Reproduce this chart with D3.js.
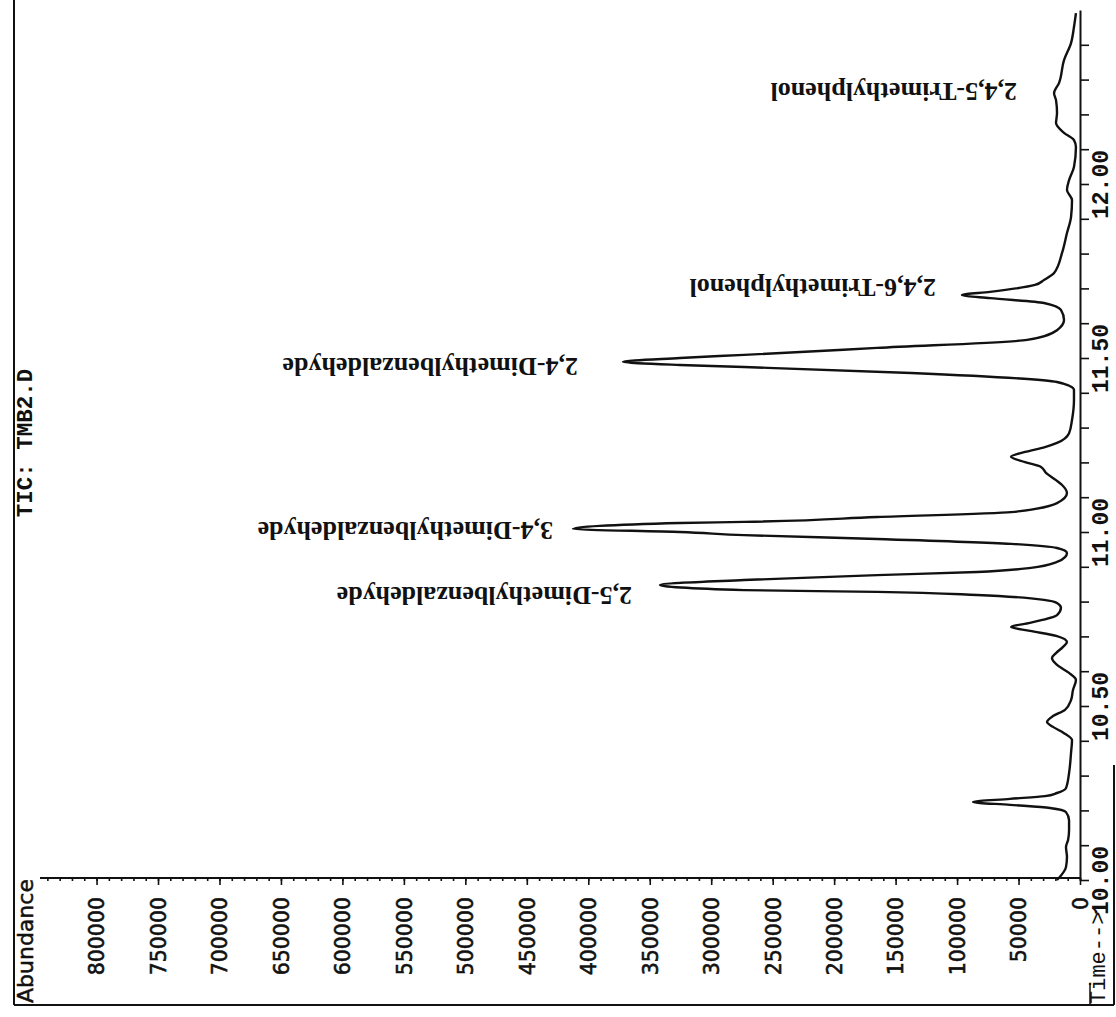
<!DOCTYPE html>
<html>
<head>
<meta charset="utf-8">
<script src="https://cdn.jsdelivr.net/npm/d3@7"></script>
<style>
  html, body { margin: 0; padding: 0; background: #fff; }
  svg { display: block; }
</style>
</head>
<body>
<svg id="chart" width="1116" height="1017"></svg>
<script>
// TIC chromatogram, drawn turned on its side: abundance runs right-to-left,
// retention time runs bottom-to-top.

// Retention time (min)
const times = [
  10.000, 10.037, 10.066, 10.095, 10.115, 10.144, 10.172, 10.195, 10.207, 10.216,
  10.224, 10.233, 10.241, 10.250, 10.264, 10.307, 10.365, 10.402, 10.422, 10.440,
  10.454, 10.471, 10.489, 10.517, 10.546, 10.575, 10.595, 10.618, 10.638, 10.652,
  10.670, 10.684, 10.701, 10.716, 10.727, 10.739, 10.761, 10.782, 10.796, 10.805,
  10.819, 10.828, 10.833, 10.848, 10.862, 10.876, 10.885, 10.897, 10.914, 10.928,
  10.940, 10.954, 10.966, 10.980, 10.991, 11.000, 11.009, 11.026, 11.029, 11.043,
  11.057, 11.083, 11.112, 11.135, 11.149, 11.170, 11.187, 11.201, 11.216, 11.230,
  11.244, 11.256, 11.284, 11.322, 11.379, 11.408, 11.431, 11.457, 11.474, 11.480,
  11.489, 11.500, 11.509, 11.529, 11.552, 11.580, 11.609, 11.638, 11.658, 11.672,
  11.681, 11.690, 11.710, 11.724, 11.744, 11.802, 11.859, 11.905, 11.954, 11.983,
  12.011, 12.049, 12.106, 12.126, 12.147, 12.175, 12.204, 12.241, 12.261, 12.290,
  12.356, 12.405, 12.451, 12.491
];

// Total ion current abundance at each time
const abundance = [
  18700, 11400, 10600, 11400, 9700, 8900, 8900, 11400, 24400, 56900,
  87000, 56900, 28500, 18700, 11400, 8900, 7300, 6500, 13000, 22000,
  26800, 22000, 12200, 7300, 5700, 3300, 8900, 18700, 22800, 19500,
  13800, 10600, 18700, 40700, 56100, 40700, 18700, 15500, 18700, 29300,
  83800, 165100, 273300, 341700, 273300, 165100, 83800, 39900, 18700, 12200,
  10600, 18700, 56100, 165100, 273300, 325400, 412400, 325400, 273300, 165100,
  56100, 18700, 10600, 14600, 19500, 27700, 31700, 44700, 56100, 44700,
  28500, 18700, 8900, 6500, 4900, 4900, 18700, 137400, 273300, 325400,
  371800, 325400, 273300, 165100, 43100, 18700, 13000, 15500, 29300, 73200,
  96000, 73200, 36600, 29300, 21100, 14600, 10600, 7300, 6500, 10600,
  8900, 4900, 3300, 4900, 13000, 19500, 18700, 19500, 21100, 17100,
  13000, 7300, 4900, 3300
];

// Compound annotations: name, and the time / abundance where each label begins
const peakNames = [
  "2,5-Dimethylbenzaldehyde",
  "3,4-Dimethylbenzaldehyde",
  "2,4-Dimethylbenzaldehyde",
  "2,4,6-Trimethylphenol",
  "2,4,5-Trimethylphenol"
];
const labelTimes = [10.842, 11.029, 11.500, 11.727, 12.290];
const labelAbundance = [364400, 428700, 408400, 117100, 51200];

// Axis ticks
const abundanceTicks = [0, 50000, 100000, 150000, 200000, 250000, 300000, 350000,
  400000, 450000, 500000, 550000, 600000, 650000, 700000, 750000, 800000];
const abundanceMinorTicks = d3.range(0, 850000, 10000);
const timeTickLabels = ["10.00", "10.50", "11.00", "11.50", "12.00"];
const timeMinorTicks = d3.range(0, 25).map(i => +(10 + i * 0.1).toFixed(1));

const title = "TIC: TMB2.D";
const abundanceTitle = "Abundance";
const timeTitle = "Time-->";

const svg = d3.select("#chart");

const x = d3.scaleLinear().domain([0, 846000]).range([1080, 40]);
const y = d3.scaleLinear().domain([10, 12.5]).range([880, 10]);

const ink = "#111";

// Page frame
const frame = svg.append("g").attr("stroke", ink).attr("stroke-width", 2).attr("fill", "none");
frame.append("line").attr("x1", 14).attr("y1", 0).attr("x2", 14).attr("y2", 1005);
frame.append("line").attr("x1", 14).attr("y1", 1005).attr("x2", 1114).attr("y2", 1005);
frame.append("line").attr("x1", 1114).attr("y1", 765).attr("x2", 1114).attr("y2", 1005);
frame.append("line").attr("x1", 1090).attr("y1", 983).attr("x2", 1090).attr("y2", 1005).attr("stroke-width", 1.5);

// Abundance axis (horizontal, along the bottom of the plot)
const axA = svg.append("g").attr("transform", "translate(0,878)");
axA.append("g")
  .call(d3.axisBottom(x).tickValues(abundanceMinorTicks).tickSize(3).tickFormat(""))
  .call(g => g.select(".domain").remove());
axA.append("g")
  .call(d3.axisBottom(x).tickValues(abundanceTicks).tickSize(7).tickSizeOuter(0).tickFormat(d3.format("d")))
  .call(g => g.selectAll("text")
    .attr("transform", "rotate(-90)")
    .attr("x", -19).attr("y", 0).attr("dy", "0.36em")
    .attr("text-anchor", "end")
    .attr("font-family", "DejaVu Sans")
    .attr("font-size", 20.5)
    .attr("fill", ink)
    .attr("stroke", ink)
    .attr("stroke-width", 0.6));
axA.selectAll(".domain").attr("stroke", ink).attr("stroke-width", 2)
  .attr("d", `M${x.range()[1]},0H${x.range()[0]}`);
axA.selectAll(".tick line").attr("stroke", ink).attr("stroke-width", 1.6);

// Time axis (vertical, along the right of the plot)
const axT = svg.append("g").attr("transform", "translate(1080,0)");
axT.call(d3.axisRight(y).tickValues(timeMinorTicks).tickSize(9).tickSizeOuter(0)
    .tickFormat(d => {
      const s = d.toFixed(2);
      return timeTickLabels.includes(s) ? s : "";
    }))
  .call(g => g.selectAll("text")
    .attr("transform", "rotate(-90)")
    .attr("x", 0).attr("y", 28).attr("dy", 0)
    .attr("text-anchor", "middle")
    .attr("font-family", "Liberation Mono")
    .attr("font-weight", "bold")
    .attr("font-size", 23)
    .attr("fill", ink));
axT.select(".domain").attr("stroke", ink).attr("stroke-width", 2);
axT.selectAll(".tick line").attr("stroke", ink).attr("stroke-width", 1.6);

// Chromatogram trace
const pts = times.map((t, i) => [t, abundance[i]]);
svg.append("path")
  .datum(pts)
  .attr("fill", "none")
  .attr("stroke", ink)
  .attr("stroke-width", 2.4)
  .attr("stroke-linejoin", "round")
  .attr("d", d3.line().x(d => x(d[1])).y(d => y(d[0])).curve(d3.curveMonotoneY));

// Compound labels (upside down)
svg.append("g").selectAll("text")
  .data(peakNames)
  .join("text")
  .attr("transform", (d, i) => `translate(${x(labelAbundance[i])},${y(labelTimes[i])}) rotate(180)`)
  .attr("text-anchor", "start")
  .attr("font-family", "Liberation Serif")
  .attr("font-weight", "bold")
  .attr("font-size", 26)
  .attr("fill", ink)
  .text(d => d);

// Titles
svg.append("text")
  .attr("transform", "translate(32,443) rotate(-90)")
  .attr("text-anchor", "middle")
  .attr("font-family", "Liberation Mono")
  .attr("font-weight", "bold")
  .attr("font-size", 22.5)
  .attr("fill", ink)
  .text(title);

svg.append("text")
  .attr("transform", "translate(33,1003) rotate(-90)")
  .attr("text-anchor", "start")
  .attr("font-family", "DejaVu Sans")
  .attr("font-size", 22)
  .attr("fill", ink)
  .attr("stroke", ink)
  .attr("stroke-width", 0.5)
  .text(abundanceTitle);

svg.append("text")
  .attr("transform", "translate(1105,1004) rotate(-90)")
  .attr("text-anchor", "start")
  .attr("font-family", "Liberation Mono")
  .attr("font-size", 22)
  .attr("fill", ink)
  .text(timeTitle);
</script>
</body>
</html>
